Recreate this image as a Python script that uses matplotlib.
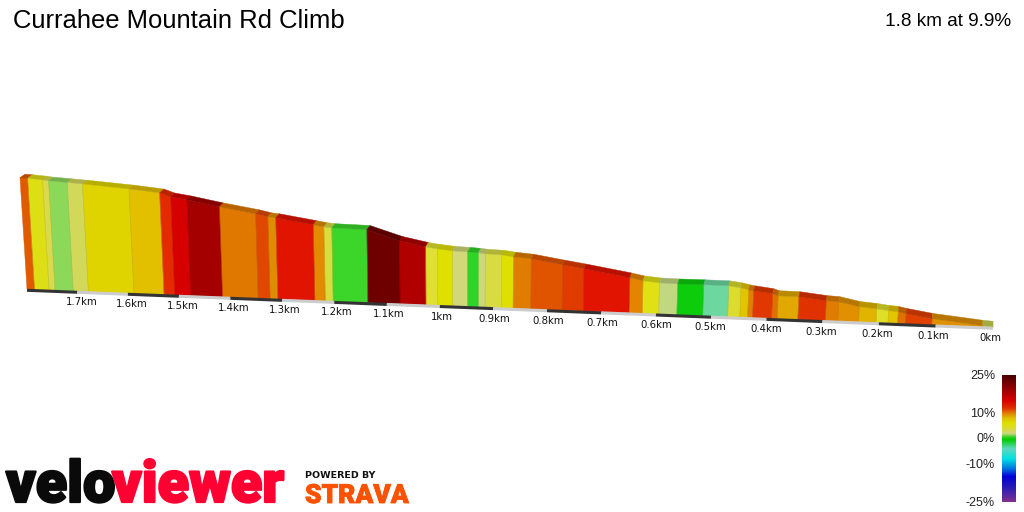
import numpy as np
import matplotlib
matplotlib.use("Agg")
import matplotlib.pyplot as plt
import matplotlib.patheffects as pe
from matplotlib.colors import LinearSegmentedColormap, to_rgb
from matplotlib.patches import Polygon

title = "Currahee Mountain Rd Climb"
summary = "1.8 km at 9.9%"

# distance from the summit (km) and elevation above the finish (m) at each segment boundary
seg_km = [1.800, 1.785, 1.756, 1.744, 1.708, 1.678, 1.588, 1.529, 1.508, 1.477,
          1.415, 1.346, 1.323, 1.308, 1.237, 1.217, 1.202, 1.136, 1.075, 1.026,
          1.004, 0.976, 0.948, 0.928, 0.915, 0.885, 0.863, 0.830, 0.772, 0.733,
          0.649, 0.625, 0.595, 0.562, 0.515, 0.470, 0.448, 0.434, 0.425, 0.391,
          0.381, 0.344, 0.295, 0.273, 0.236, 0.205, 0.184, 0.167, 0.153, 0.107,
          0.018, 0.000]
seg_elev = [178.8, 178.4, 176.8, 175.7, 174.2, 172.8, 167.7, 163.2, 157.4, 153.7,
            144.4, 135.5, 131.4, 130.3, 121.5, 118.9, 117.8, 116.9, 101.2, 93.1,
            90.7, 88.5, 87.8, 86.9, 85.8, 85.1, 82.7, 80.6, 72.9, 68.0,
            56.4, 52.4, 50.2, 49.7, 49.9, 49.7, 47.3, 44.6, 43.3, 39.8,
            36.9, 36.5, 31.9, 31.1, 24.4, 22.3, 19.9, 18.9, 16.2, 9.8,
            1.8, 0.8]
seg_colors = ["#e05a00", "#dede14", "#d9d94a", "#8cd95a", "#d2d85a", "#e0d400", "#e2c000",
              "#e42a00", "#d60000", "#a40000", "#e07800", "#e04800", "#e08c00", "#e01400",
              "#e28a00", "#d8dc3c", "#3cd62a", "#6e0000", "#b00000", "#e0e030", "#e0e000",
              "#d2d878", "#2ed428", "#ccd87a", "#d8dc40", "#e0e000", "#e07c00", "#e05400",
              "#e03c00", "#e01400", "#e48400", "#e0e014", "#c2d880", "#0ccc0c", "#6cd8a0",
              "#dcdc30", "#e2c400", "#e08000", "#e03800", "#e07000", "#e0a800", "#e03200",
              "#e07c00", "#e09000", "#e2b400", "#dfdf28", "#e2c400", "#e07000", "#e04000",
              "#e09000", "#c8d050"]

tick_km = [1.8, 1.7, 1.6, 1.5, 1.4, 1.3, 1.2, 1.1, 1.0, 0.9, 0.8, 0.7, 0.6, 0.5, 0.4, 0.3, 0.2, 0.1, 0.0]
tick_labels = ["", "1.7km", "1.6km", "1.5km", "1.4km", "1.3km", "1.2km", "1.1km", "1km", "0.9km",
               "0.8km", "0.7km", "0.6km", "0.5km", "0.4km", "0.3km", "0.2km", "0.1km", "0km"]

scale_grades = [25, 10, 0, -10, -25]
scale_labels = ["25%", "10%", "0%", "-10%", "-25%"]
ramp_grades = [-25, -20, -15, -12, -8, -4, -0.5, 0.5, 2, 4, 6, 8, 10, 12, 15, 20, 25]
ramp_colors = ["#803090", "#3020b0", "#0000d8", "#0070e0", "#00e0e0", "#60d8c0", "#00cc00", "#30d020",
               "#d0d480", "#dcdc30", "#e0e000", "#e2c000", "#e08000", "#e03000", "#d80000", "#900000", "#480000"]

plt.rcParams['font.family'] = ['Liberation Sans', 'DejaVu Sans']

fig = plt.figure(figsize=(10.24, 5.12), dpi=100)
ax = fig.add_axes([0, 0, 1, 1])
ax.set_xlim(0, 1024)
ax.set_ylim(512, 0)
ax.axis("off")


def km_to_x(km):
    # the road recedes to the left, so a kilometre gets shorter there
    return 993 - 575.3 * km / (1 + 0.04 * km)


def ground_y(x):
    return 289.3 + (x - 27) * 0.0393


def project(km, elev):
    x = km_to_x(km)
    h = elev * 0.624
    # verticals fan out with height away from the vanishing column
    return x + h * (x - 465) * 0.000144, ground_y(x) - h


def shade(color, f):
    return tuple(c * f for c in to_rgb(color))


# front faces and the darker top strip of the road
for i, color in enumerate(seg_colors):
    x0, x1 = km_to_x(seg_km[i]), km_to_x(seg_km[i + 1])
    tx0, ty0 = project(seg_km[i], seg_elev[i])
    tx1, ty1 = project(seg_km[i + 1], seg_elev[i + 1])
    front = [(x0, ground_y(x0)), (tx0, ty0), (tx1, ty1), (x1, ground_y(x1))]
    ax.add_patch(Polygon(front, closed=True, facecolor=color, edgecolor=color, lw=0.3, zorder=2))
    bx0, by0 = tx0 + 5 * (1 - tx0 / 1000), ty0 - 3.5 - tx0 * 0.002
    bx1, by1 = tx1 + 5 * (1 - tx1 / 1000), ty1 - 3.5 - tx1 * 0.002
    top = [(tx0, ty0), (bx0, by0), (bx1, by1), (tx1, ty1)]
    ax.add_patch(Polygon(top, closed=True, facecolor=shade(color, 0.82), edgecolor=shade(color, 0.82),
                         lw=0.3, zorder=2))
    # faint seam between neighbouring segments
    ax.plot([x1, tx1], [ground_y(x1), ty1], color=shade(color, 0.8), lw=0.5, alpha=0.6, zorder=3)

# alternating distance band along the bottom, one stripe per 0.1 km
for i in range(len(tick_km) - 1):
    x0, x1 = km_to_x(tick_km[i]), km_to_x(tick_km[i + 1])
    stripe = "#333333" if i % 2 == 0 else "#cccccc"
    ax.plot([x0, x1], [ground_y(x0) + 1, ground_y(x1) + 1], color=stripe, lw=2.2,
            solid_capstyle="butt", zorder=4)

for km, label in zip(tick_km, tick_labels):
    x = km_to_x(km)
    ax.text(x + 4.5 - (x - 75) * 0.0076, ground_y(x) + 11, label, fontsize=7.3, family="DejaVu Sans",
            ha="center", va="center", color="#111111")

ax.text(13, 21.5, title, fontsize=18.45, ha="left", va="center", color="#000000")
ax.text(1011, 21, summary, fontsize=13.7, ha="right", va="center", color="#000000")

# gradient colour scale
ramp = LinearSegmentedColormap.from_list(
    "grade", [((g + 25) / 50, c) for g, c in zip(ramp_grades, ramp_colors)])
ax.imshow(np.linspace(1, 0, 256).reshape(-1, 1), cmap=ramp, extent=(1002, 1015.5, 502, 375),
          aspect="auto", zorder=2)
ax.set_xlim(0, 1024)
ax.set_ylim(512, 0)
for g, label in zip(scale_grades, scale_labels):
    ax.text(995, 439.5 - g * 2.54, label, fontsize=9, ha="right", va="center", color="#222222")

# wordmarks; a thin stroke brings the letters up to a heavier weight
thick = [pe.withStroke(linewidth=1.6, foreground="#0a0a0a")]
ax.text(6, 502, "velo", fontsize=41.5, family="Roboto", fontweight="black", ha="left", va="baseline",
        color="#0a0a0a", path_effects=thick)
thick = [pe.withStroke(linewidth=1.6, foreground="#ff0033")]
ax.text(112, 502, "viewer", fontsize=41.5, family="Roboto", fontweight="black", ha="left", va="baseline",
        color="#ff0033", path_effects=thick)
ax.text(305, 477.5, "POWERED BY", fontsize=6.8, family="DejaVu Sans", fontweight="bold", ha="left",
        va="baseline", color="#111111")
ax.text(305, 503, "STRAVA", fontsize=19, family="Roboto", fontweight="black", ha="left", va="baseline",
        color="#fc5200", path_effects=[pe.withStroke(linewidth=0.6, foreground="#fc5200")])

fig.savefig("out.png", dpi=100)
